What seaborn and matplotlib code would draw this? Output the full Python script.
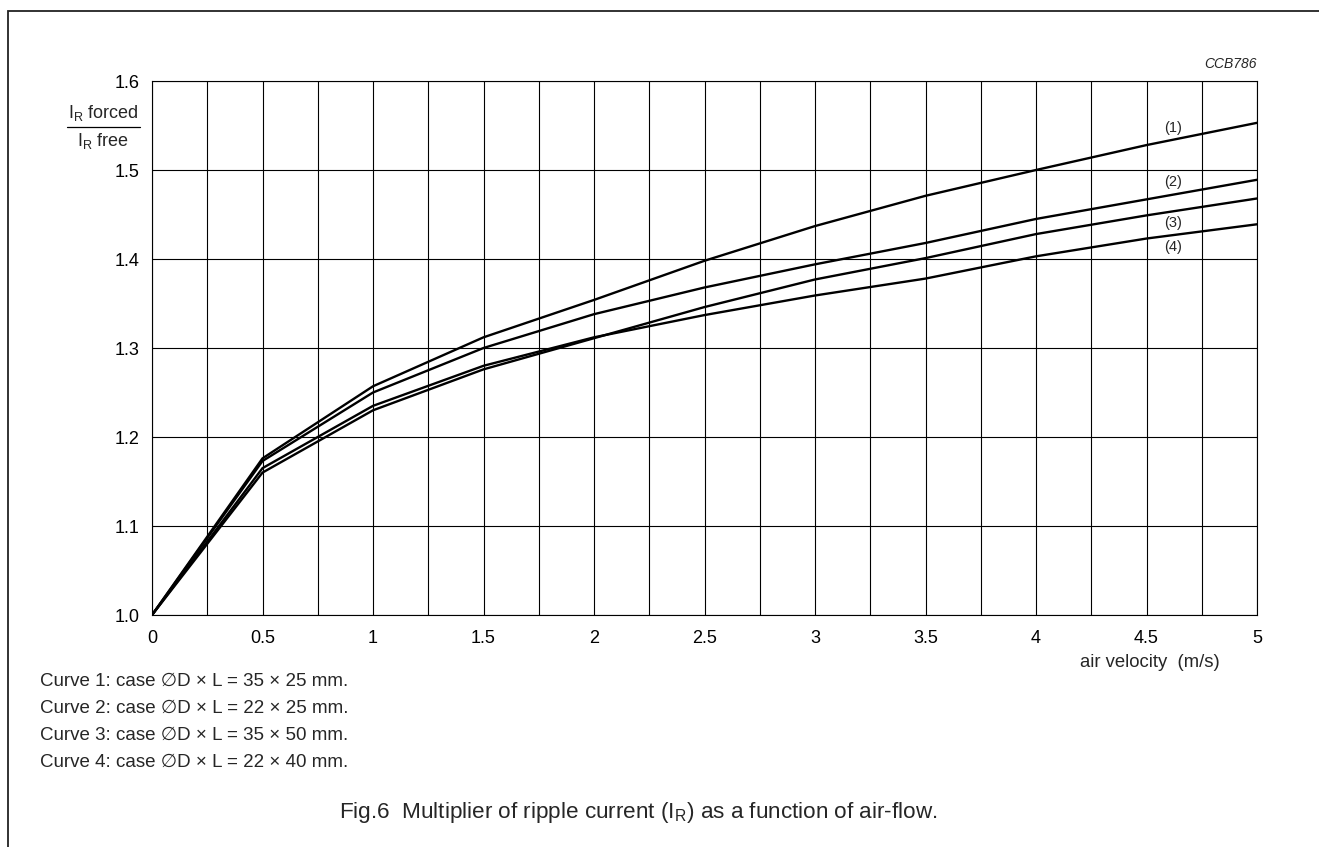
import numpy as np
import pandas as pd
import seaborn as sns
import matplotlib.pyplot as plt
from matplotlib.patches import Rectangle
from matplotlib.lines import Line2D

# dati (velocità aria in m/s, moltiplicatore I_R)
velocita = [0, 0.5, 1, 1.5, 2, 2.5, 3, 3.5, 4, 4.5, 5]
curva_1 = [1.0, 1.176, 1.257, 1.312, 1.354, 1.398, 1.437, 1.471, 1.500, 1.528, 1.553]
curva_2 = [1.0, 1.173, 1.250, 1.300, 1.338, 1.368, 1.394, 1.418, 1.445, 1.467, 1.489]
curva_3 = [1.0, 1.160, 1.230, 1.276, 1.311, 1.346, 1.377, 1.401, 1.428, 1.449, 1.468]
curva_4 = [1.0, 1.165, 1.235, 1.280, 1.312, 1.337, 1.359, 1.378, 1.403, 1.423, 1.439]
nomi_curve = ['(1)', '(2)', '(3)', '(4)']
etichette_x = ['0', '0.5', '1', '1.5', '2', '2.5', '3', '3.5', '4', '4.5', '5']
etichette_y = ['1.0', '1.1', '1.2', '1.3', '1.4', '1.5', '1.6']
note_curve = [
    'Curve 1: case \u2205D \u00d7 L = 35 \u00d7 25 mm.',
    'Curve 2: case \u2205D \u00d7 L = 22 \u00d7 25 mm.',
    'Curve 3: case \u2205D \u00d7 L = 35 \u00d7 50 mm.',
    'Curve 4: case \u2205D \u00d7 L = 22 \u00d7 40 mm.',
]

df = pd.DataFrame({
    'velocita': velocita * 4,
    'valore': curva_1 + curva_2 + curva_3 + curva_4,
    'curva': [n for n in nomi_curve for _ in velocita],
})

sns.set_style('white')
plt.rcParams['font.family'] = ['Liberation Sans', 'DejaVu Sans']
plt.rcParams['mathtext.fontset'] = 'custom'
plt.rcParams['mathtext.rm'] = 'Liberation Sans'
plt.rcParams['mathtext.it'] = 'Liberation Sans:italic'

W, H = 1319, 847
fig = plt.figure(figsize=(W / 100, H / 100), dpi=100)
ax = fig.add_axes([152 / W, 1 - 615 / H, (1257 - 152) / W, (615 - 81) / H])

# griglia
ax.set_xlim(0, 5)
ax.set_ylim(1.0, 1.6)
ax.set_xticks(np.arange(0, 5.01, 0.5))
ax.set_xticks(np.arange(0, 5.01, 0.25), minor=True)
ax.set_yticks(np.arange(1.0, 1.601, 0.1))
ax.set_xticklabels(etichette_x)
ax.set_yticklabels(etichette_y)
ax.grid(True, which='both', color='black', linewidth=0.8)
ax.tick_params(which='both', length=0, labelsize=13, colors='black')
ax.tick_params(axis='x', pad=11)
ax.tick_params(axis='y', pad=9)
for s in ax.spines.values():
    s.set_color('black')
    s.set_linewidth(0.8)

# curve
sns.lineplot(data=df, x='velocita', y='valore', hue='curva', units='curva',
             estimator=None, palette=['black'] * 4, linewidth=1.7,
             legend=False, ax=ax)
ax.set_xlabel('')
ax.set_ylabel('')

# etichette curve
pos_etichette = [1.5475, 1.486, 1.440, 1.413]
for nome, yy in zip(nomi_curve, pos_etichette):
    ax.text(4.62, yy, nome, fontsize=10.5, ha='center', va='center')

# etichetta asse y (frazione)
fig.text(103 / W, 1 - 118 / H, r'$\mathregular{I_R}$ forced', fontsize=13,
         ha='center', va='baseline')
fig.text(103 / W, 1 - 146 / H, r'$\mathregular{I_R}$ free', fontsize=13,
         ha='center', va='baseline')
fig.add_artist(Line2D([67 / W, 140 / W], [1 - 127 / H, 1 - 127 / H],
                      transform=fig.transFigure, color='black', linewidth=0.9))

fig.text(1257 / W, 1 - 68 / H, 'CCB786', fontsize=10, style='italic',
         ha='right', va='baseline')
fig.text(1220 / W, 1 - 667 / H, 'air velocity  (m/s)', fontsize=13.3,
         ha='right', va='baseline')

for i, nota in enumerate(note_curve):
    fig.text(40 / W, 1 - (686 + 27 * i) / H, nota, fontsize=13.5,
             ha='left', va='baseline')

fig.text(638 / W, 1 - 818 / H,
         r'Fig.6  Multiplier of ripple current ($\mathregular{I_R}$) as a function of air-flow.',
         fontsize=16.2, ha='center', va='baseline')

# cornice
fig.add_artist(Rectangle((8 / W, -0.05), 1.2, 1 - 11 / H + 0.05,
                         transform=fig.transFigure, fill=False,
                         edgecolor='#222222', linewidth=1.3))

fig.savefig('out.png', dpi=100)
